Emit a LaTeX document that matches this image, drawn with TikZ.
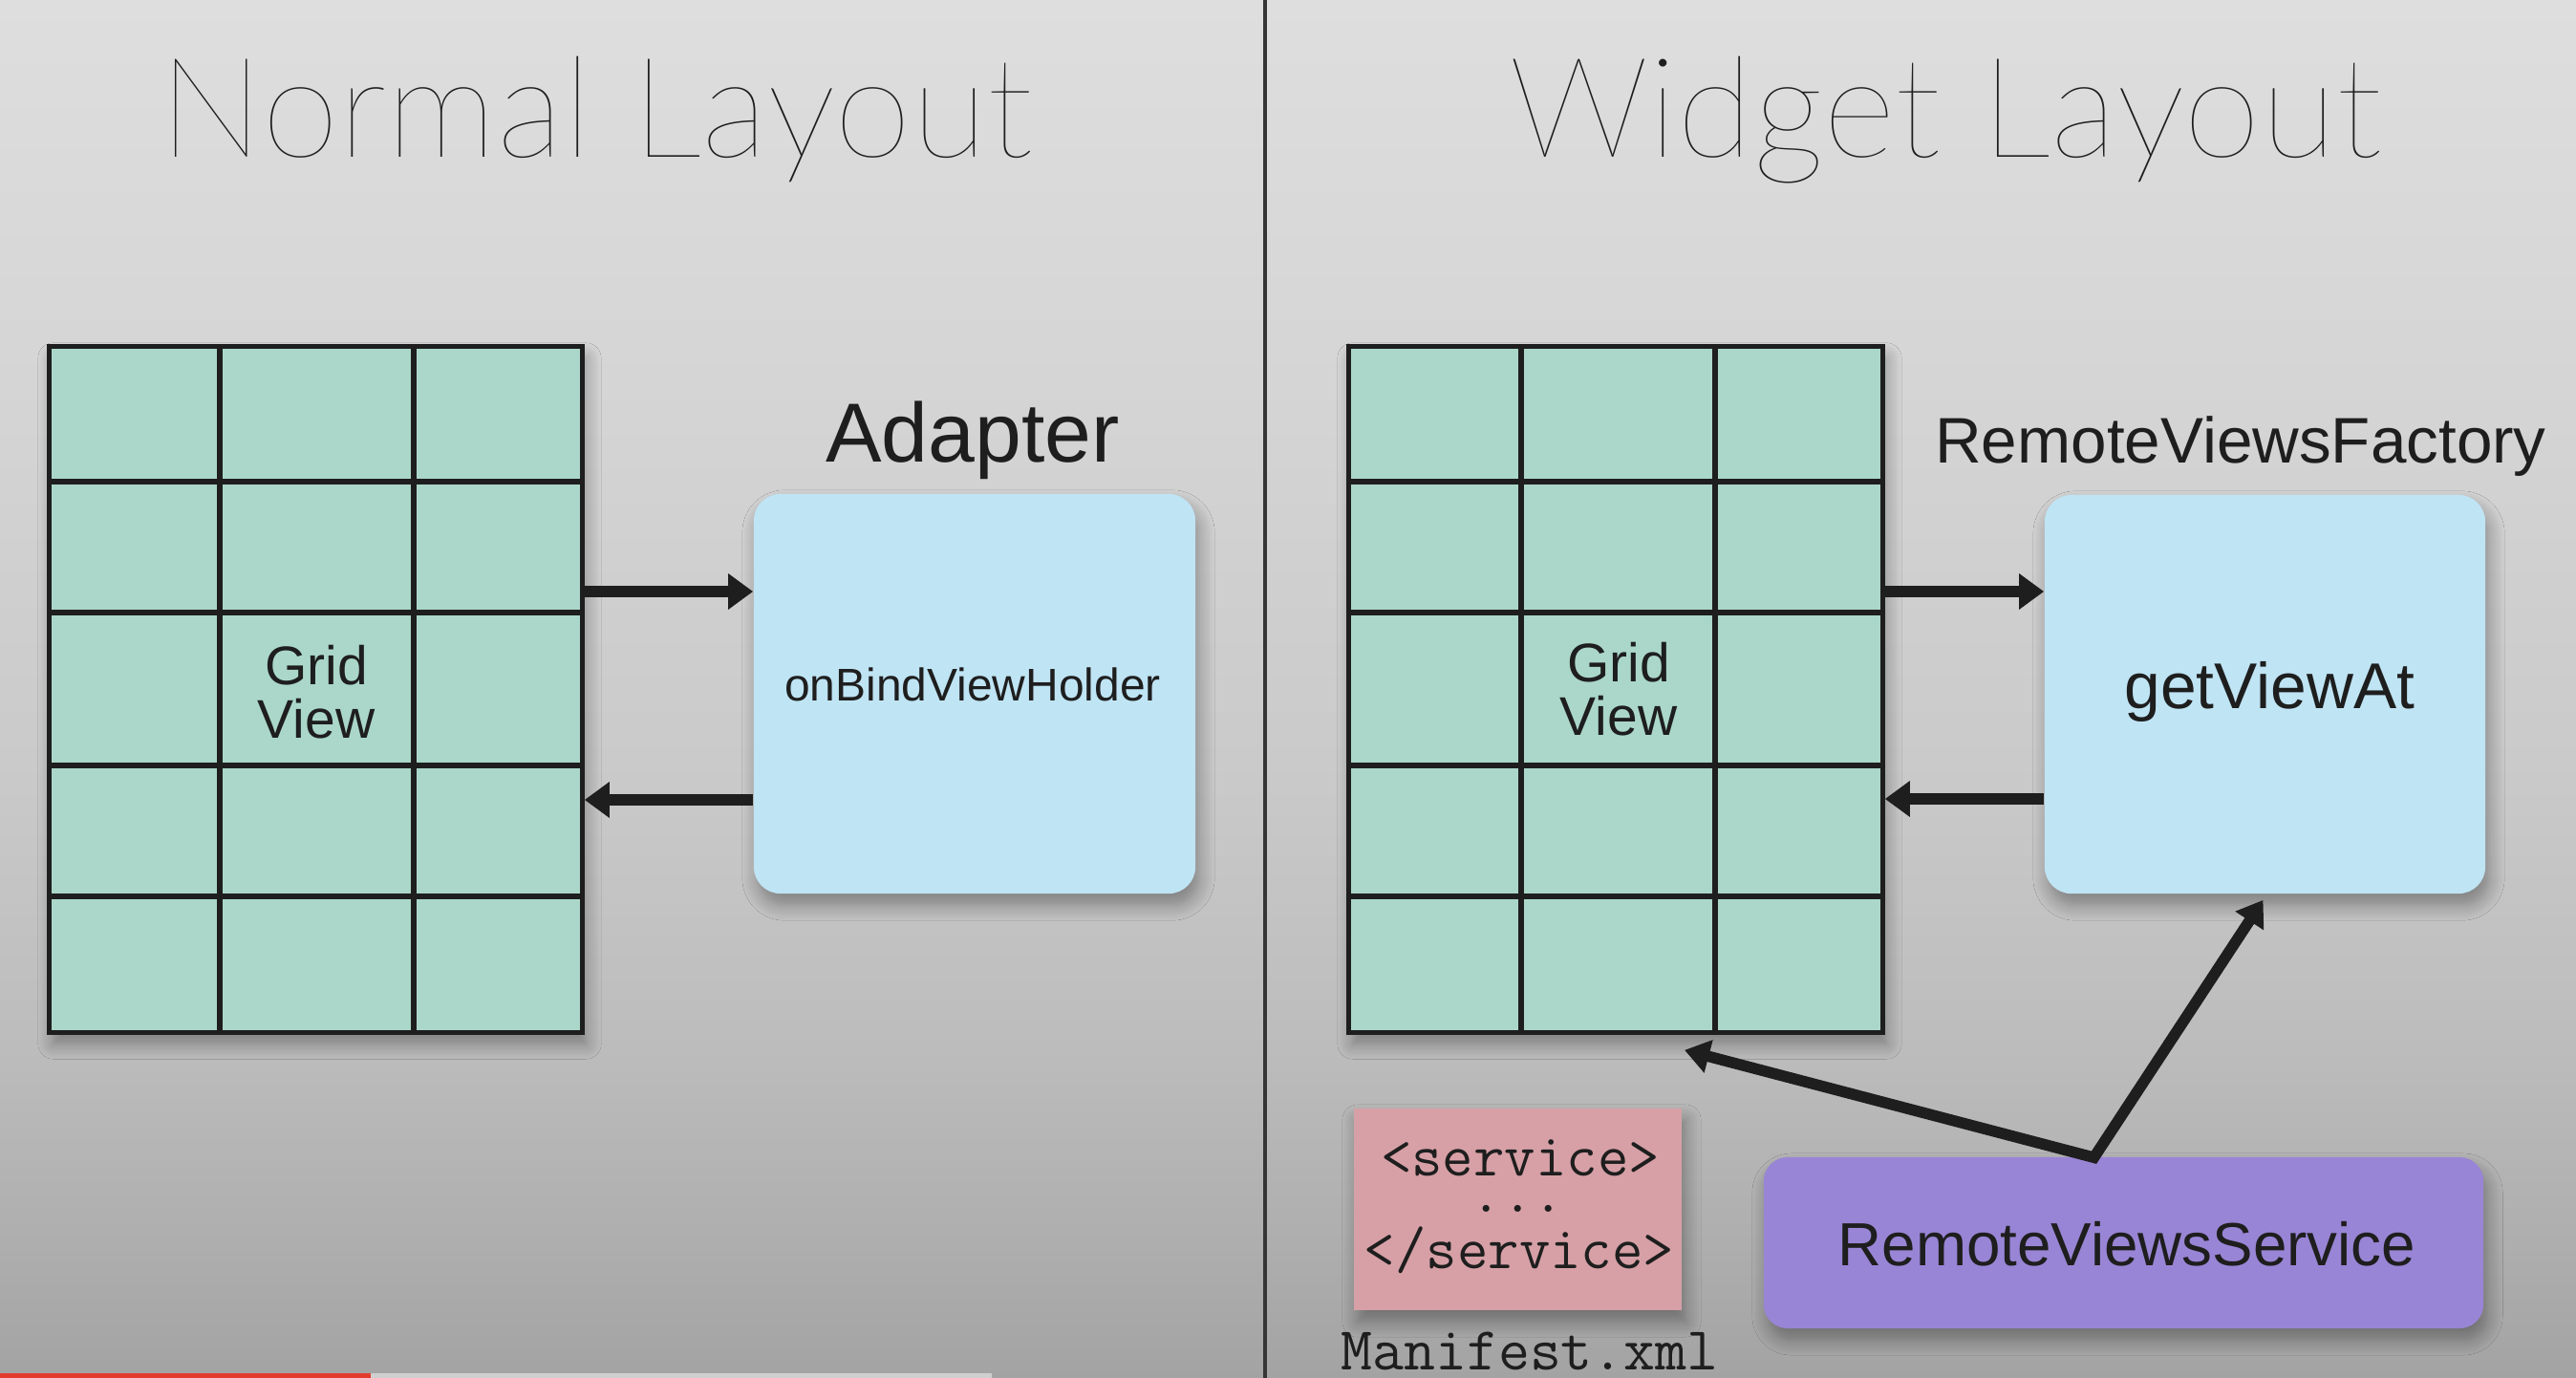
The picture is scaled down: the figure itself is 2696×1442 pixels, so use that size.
\documentclass[tikz,border=0pt]{standalone}
\usepackage{fontspec}
\setmainfont{Liberation Sans}
\IfFontExistsTF{Lato Thin}{\newfontfamily\titlefont{Lato Thin}}{\newfontfamily\titlefont{Lato Light}}
\usetikzlibrary{arrows.meta,calc,shadows.blur}

\definecolor{bgA}{HTML}{A3A3A3}
\definecolor{bgB}{HTML}{AEAEAE}
\definecolor{bgC}{HTML}{BCBCBC}
\definecolor{bgD}{HTML}{CACACA}
\definecolor{bgE}{HTML}{D5D5D5}
\definecolor{bgF}{HTML}{DEDEDE}
\definecolor{teal}{HTML}{AAD7C9}
\definecolor{skyblue}{HTML}{BFE4F4}
\definecolor{lilac}{HTML}{9985D5}
\definecolor{rosy}{HTML}{D6A0A6}
\definecolor{ink}{HTML}{1E1E1E}
\definecolor{ytred}{HTML}{E33B2E}
\definecolor{ytgray}{HTML}{CFCFCF}

\pgfdeclareverticalshading{bgshade}{100bp}{color(0bp)=(bgA); color(25bp)=(bgA); color(29.9bp)=(bgB); color(36.9bp)=(bgC); color(47.3bp)=(bgD); color(61.1bp)=(bgE); color(75bp)=(bgF); color(100bp)=(bgF)}

\begin{document}
\begin{tikzpicture}[x=0.01cm,y=-0.01cm,
  softshadow/.style={blur shadow={shadow xshift=0.04cm, shadow yshift=-0.12cm, shadow blur radius=0.16cm, shadow blur steps=8, shadow opacity=35}},
  gridbox/.style={draw=ink, line width=1.5pt, fill=teal, inner sep=0pt, softshadow},
  gridline/.style={draw=ink, line width=1.5pt},
  bluebox/.style={fill=skyblue, rounded corners=0.28cm, inner sep=0pt, softshadow},
  purplebox/.style={fill=lilac, rounded corners=0.25cm, inner sep=0pt, softshadow},
  pinkbox/.style={fill=rosy, inner sep=0pt, softshadow},
  lbl/.style={text=ink, inner sep=0pt, anchor=base},
  monotxt/.style={text=ink, inner sep=0pt, anchor=base, font=\ttfamily\fontsize{17.9pt}{20pt}\selectfont},
  titletxt/.style={text=ink, inner sep=0pt, anchor=base, font=\titlefont\fontsize{41.6pt}{48pt}\selectfont},
  arr/.style={draw=ink, line width=3.3pt, -{Triangle[length=0.26cm,width=0.36cm]}},
  darr/.style={draw=ink, line width=3.3pt, line join=miter, {Triangle[length=0.26cm,width=0.34cm]}-{Triangle[length=0.26cm,width=0.34cm]}}
]
\useasboundingbox (0,0) rectangle (2696,1442);
\shade[shading=bgshade] (0,0) rectangle (2696,1442);

% divider
\draw[draw=ink!90, line width=0.9pt] (1324,0) -- (1324,1442);

% titles
\node[titletxt] (tnormal) at (624,164) {Normal Layout};
\node[titletxt] (twidget) at (2036,164) {Widget Layout};

% ---------- left: normal layout ----------
\node[gridbox, minimum width=5.57cm, minimum height=7.17cm] (gridL) at (330.5,721.5) {};
\foreach \cx in {230,433} \draw[gridline] (\cx,363) -- (\cx,1080);
\foreach \ry in {504,641,801,938} \draw[gridline] (52,\ry) -- (609,\ry);
\node[lbl, align=center, font=\fontsize{16.2pt}{15.9pt}\selectfont] (gvL) at (331,772) {Grid\\View};

\node[bluebox, minimum width=4.62cm, minimum height=4.18cm] (adbox) at (1020,726) {};
\node[lbl, font=\fontsize{13.63pt}{16pt}\selectfont] (obvh) at ($(adbox.center)+(-2,7)$) {onBindViewHolder};
\node[lbl, font=\fontsize{24.95pt}{30pt}\selectfont] (adapter) at (1018,483) {Adapter};

\draw[arr] (gridL.east |- 0,619) -- (adbox.west |- 0,619);
\draw[arr] (adbox.west |- 0,837) -- (gridL.east |- 0,837);

% ---------- right: widget layout ----------
\node[gridbox, minimum width=5.58cm, minimum height=7.17cm] (gridR) at (1691,721.5) {};
\foreach \cx in {1592,1795} \draw[gridline] (\cx,363) -- (\cx,1080);
\foreach \ry in {504,641,801,938} \draw[gridline] (1412,\ry) -- (1970,\ry);
\node[lbl, align=center, font=\fontsize{16.2pt}{15.9pt}\selectfont] (gvR) at (1694,769) {Grid\\View};

\node[bluebox, minimum width=4.61cm, minimum height=4.17cm] (gvbox) at (2370.5,726.5) {};
\node[lbl, font=\fontsize{19.26pt}{23pt}\selectfont] (getview) at ($(gvbox.center)+(5,15)$) {getViewAt};
\node[lbl, font=\fontsize{19.17pt}{23pt}\selectfont] (rvf) at (2345,484) {RemoteViewsFactory};

\draw[arr] (gridR.east |- 0,619) -- (gvbox.west |- 0,619);
\draw[arr] (gvbox.west |- 0,836) -- (gridR.east |- 0,836);

% manifest
\node[pinkbox, minimum width=3.43cm, minimum height=2.11cm] (manbox) at (1588.5,1265.5) {};
\node[monotxt] (svcopen) at (1591,1230) {<service>};
\node[monotxt] (svcdots) at (1588.5,1268) {...};
\node[monotxt] (svcclose) at (1590,1327) {</service>};
\node[lbl, font=\ttfamily\fontsize{18.2pt}{22pt}\selectfont] (manifest) at (1601,1433) {Manifest.xml};

% service
\node[purplebox, minimum width=7.53cm, minimum height=1.79cm] (rvs) at (2222.5,1300.5) {};
\node[lbl, font=\fontsize{18.12pt}{22pt}\selectfont] (rvstext) at (2226,1324) {RemoteViewsService};

\coordinate (j) at ($(rvs.north)+(-31,1)$);
\coordinate (tipg) at ($(gridR.south)+(72,16)$);
\coordinate (tipv) at ($(gvbox.south)+(-2,6)$);
\draw[darr] (tipg) -- (j) -- (tipv);

% video progress bar
\fill[ytgray] (388,1437) rectangle (1038,1442);
\fill[ytred] (0,1437) rectangle (388,1442);
\end{tikzpicture}
\end{document}
